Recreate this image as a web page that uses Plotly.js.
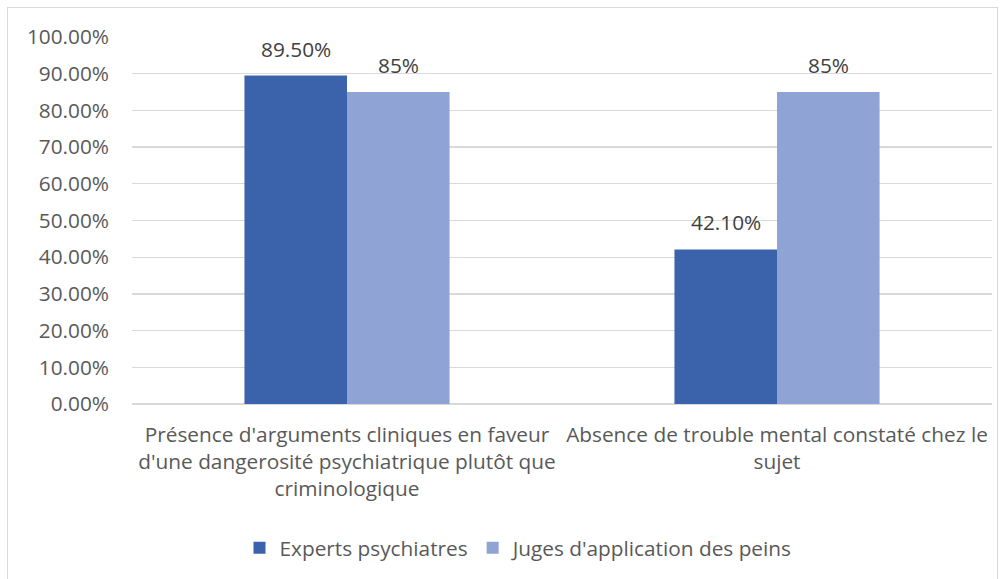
<!DOCTYPE html>
<html>
<head>
<meta charset="utf-8">
<script src="https://cdn.plot.ly/plotly-3.0.1.min.js"></script>
<style>
html,body{margin:0;padding:0;background:#fff;}
#wrap{position:relative;width:1008px;height:579px;}
#chart{position:absolute;left:0;top:0;width:1008px;height:579px;}
#frame{position:absolute;left:7px;top:7px;width:991px;height:580px;border:1.5px solid #D9D9D9;pointer-events:none;box-sizing:border-box;}
</style>
</head>
<body>
<div id="wrap"><div id="chart"></div><div id="frame"></div></div>
<script>
const categories = [
  "Présence d'arguments cliniques en faveur<br>d'une dangerosité psychiatrique plutôt que<br>criminologique",
  "Absence de trouble mental constaté chez le<br>sujet"
];
const seriesNames = ["Experts psychiatres", "Juges d'application des peins"];
const expertsValues = [0.895, 0.421];
const jugesValues = [0.85, 0.85];
const expertsLabels = ["89.50%", "42.10%"];
const jugesLabels = ["85%", "85%"];
const yTickVals = [0, 0.1, 0.2, 0.3, 0.4, 0.5, 0.6, 0.7, 0.8, 0.9, 1.0];
const yTickText = ["0.00%", "10.00%", "20.00%", "30.00%", "40.00%", "50.00%", "60.00%", "70.00%", "80.00%", "90.00%", "100.00%"];

const font = "Open Sans, sans-serif";
const txtColor = "#595959";
const fs = 20.8;

const traces = [
  {type: "bar", name: seriesNames[0], x: categories, y: expertsValues,
   marker: {color: "#3B63AC"}, hoverinfo: "none"},
  {type: "bar", name: seriesNames[1], x: categories, y: jugesValues,
   marker: {color: "#8FA3D4"}, hoverinfo: "none"}
];

const annotations = [];
const shift = 51;
categories.forEach((c, i) => {
  annotations.push({x: c, y: expertsValues[i], xref: "x", yref: "y", text: expertsLabels[i],
    showarrow: false, xshift: -shift, yanchor: "bottom", yshift: 11,
    font: {family: font, size: fs, color: "#404040"}});
  annotations.push({x: c, y: jugesValues[i], xref: "x", yref: "y", text: jugesLabels[i],
    showarrow: false, xshift: shift, yanchor: "bottom", yshift: 11,
    font: {family: font, size: fs, color: "#404040"}});
});

const layout = {
  width: 1008, height: 579,
  margin: {l: 132, r: 16, t: 37, b: 174},
  paper_bgcolor: "#fff", plot_bgcolor: "#fff",
  barmode: "group", bargap: 0.523, bargroupgap: 0,
  font: {family: font, size: fs, color: txtColor},
  xaxis: {type: "category", showgrid: false, showline: false, ticks: "",
    ticklabelstandoff: 16,
    tickfont: {family: font, size: fs, color: txtColor}, fixedrange: true},
  yaxis: {range: [0, 1.0], tickvals: yTickVals, ticktext: yTickText,
    showgrid: true, gridcolor: "#D9D9D9", gridwidth: 1.3,
    zeroline: true, zerolinecolor: "#D9D9D9", zerolinewidth: 1.3,
    showline: false, ticks: "", ticklen: 0, ticklabelstandoff: 22,
    tickfont: {family: font, size: fs, color: txtColor}, fixedrange: true},
  showlegend: true,
  legend: {orientation: "h", x: 0.45, xanchor: "center", y: -0.389, yanchor: "middle",
    font: {family: font, size: fs, color: txtColor}, traceorder: "normal",
    itemwidth: 30, itemclick: false, itemdoubleclick: false},
  annotations: annotations
};

Plotly.newPlot("chart", traces, layout, {staticPlot: true, displayModeBar: false});
</script>
</body>
</html>
